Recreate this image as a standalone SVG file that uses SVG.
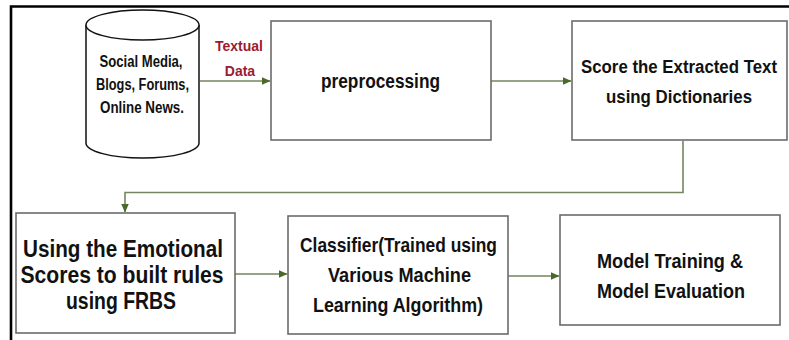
<svg xmlns="http://www.w3.org/2000/svg" width="789" height="340" viewBox="0 0 789 340">
<style>
.box{fill:#fff;stroke:#6b6b6b;stroke-width:1.6}
.t{font-family:"Liberation Sans",Arial,sans-serif;font-weight:bold;fill:#111;text-anchor:middle}
.lbl{font-family:"Liberation Sans",Arial,sans-serif;font-weight:bold;fill:#9b1b30;text-anchor:middle;font-size:14px}
.conn{fill:none;stroke:#75855f;stroke-width:1.6}
</style>
<defs>
<marker id="ah" markerWidth="9" markerHeight="8" refX="8.5" refY="4" orient="auto" markerUnits="userSpaceOnUse">
<path d="M0,0 L9,4 L0,8 Z" fill="#4a6a2c"/>
</marker>
</defs>
<rect width="789" height="340" fill="#fff"/>
<g id="frame">
<path d="M11,340 V6.5 H789" fill="none" stroke="#000" stroke-width="2.6"/>
</g>
<g id="connectors">
<path class="conn" d="M200,81 H270" marker-end="url(#ah)"/>
<path class="conn" d="M491,81 H571" marker-end="url(#ah)"/>
<path class="conn" d="M683,141 V192.5 H125 V212" marker-end="url(#ah)"/>
<path class="conn" d="M235,274 H287" marker-end="url(#ah)"/>
<path class="conn" d="M508,276 H559" marker-end="url(#ah)"/>
</g>
<g id="edge-label">
<text class="lbl" x="239" y="51">Textual</text>
<text class="lbl" x="240" y="76">Data</text>
</g>
<g id="source">
<path d="M86,25 V143 A56.5,15 0 0 0 199,143 V25" fill="#fff" stroke="#111" stroke-width="1.5"/>
<ellipse cx="142.5" cy="25" rx="56.5" ry="15" fill="#fff" stroke="#111" stroke-width="1.5"/>
<text class="t" font-size="16" x="141" y="67" textLength="83" lengthAdjust="spacingAndGlyphs">Social Media,</text>
<text class="t" font-size="16" x="142.5" y="90" textLength="93" lengthAdjust="spacingAndGlyphs">Blogs, Forums,</text>
<text class="t" font-size="16" x="142" y="113" textLength="84" lengthAdjust="spacingAndGlyphs">Online News.</text>
</g>
<g id="preprocessing">
<rect class="box" x="271" y="21" width="220" height="119"/>
<text class="t" font-size="20" x="380.5" y="88" textLength="119" lengthAdjust="spacingAndGlyphs">preprocessing</text>
</g>
<g id="score">
<rect class="box" x="572" y="21" width="215" height="119"/>
<text class="t" font-size="17.5" x="679" y="73" textLength="196" lengthAdjust="spacingAndGlyphs">Score the Extracted Text</text>
<text class="t" font-size="17.5" x="679" y="103" textLength="146" lengthAdjust="spacingAndGlyphs">using Dictionaries</text>
</g>
<g id="rules">
<rect class="box" x="16" y="213" width="219" height="120"/>
<text class="t" font-size="23" x="123" y="257" textLength="200" lengthAdjust="spacingAndGlyphs">Using the Emotional</text>
<text class="t" font-size="23" x="122" y="283" textLength="203" lengthAdjust="spacingAndGlyphs">Scores to built rules</text>
<text class="t" font-size="23" x="121" y="309" textLength="110" lengthAdjust="spacingAndGlyphs">using FRBS</text>
</g>
<g id="classifier">
<rect class="box" x="288" y="216" width="220" height="118"/>
<text class="t" font-size="21" x="398.5" y="252" textLength="197" lengthAdjust="spacingAndGlyphs">Classifier(Trained using</text>
<text class="t" font-size="21" x="399.5" y="282" textLength="143" lengthAdjust="spacingAndGlyphs">Various Machine</text>
<text class="t" font-size="21" x="398" y="312" textLength="170" lengthAdjust="spacingAndGlyphs">Learning Algorithm)</text>
</g>
<g id="model">
<rect class="box" x="560" y="215" width="220" height="110"/>
<text class="t" font-size="21" x="670" y="268" textLength="146" lengthAdjust="spacingAndGlyphs">Model Training &amp;</text>
<text class="t" font-size="21" x="671" y="298" textLength="148" lengthAdjust="spacingAndGlyphs">Model Evaluation</text>
</g>
</svg>
